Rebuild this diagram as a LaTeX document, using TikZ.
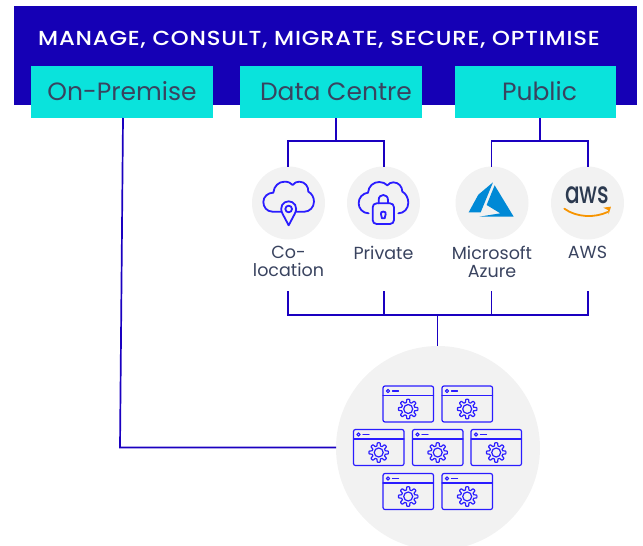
\documentclass[tikz,border=0pt]{standalone}
\usepackage{fontspec}
\setmainfont{Poppins}
\newfontfamily\hdfont[LetterSpace=4,FakeStretch=1.12]{Poppins Medium}
\newfontfamily\logofont{Poppins Medium}
\definecolor{banner}{HTML}{1500B5}
\definecolor{cyanbox}{HTML}{0AE3DC}
\definecolor{linecol}{HTML}{1A00C0}
\definecolor{iconcol}{HTML}{2A1CFF}
\definecolor{disc}{HTML}{F2F2F2}
\definecolor{ink}{HTML}{39435F}
\definecolor{azure}{HTML}{0089D6}
\definecolor{awsorange}{HTML}{F79400}
\definecolor{awsink}{HTML}{2C3A50}
\tikzset{
  x=1pt,y=-1pt,
  boxlabel/.style={fill=cyanbox,text=ink,font=\fontsize{25}{28}\selectfont,minimum height=52pt,inner sep=0pt,outer sep=0pt},
  discnode/.style={circle,fill=disc,inner sep=0pt,outer sep=0pt},
  caption/.style={text=ink,font=\fontsize{17.5}{18}\selectfont,align=center,inner sep=0pt},
  conn/.style={draw=linecol,line width=1.7pt},
  icon/.style={draw=iconcol,line width=1.8pt,line join=round,line cap=round},
  thinicon/.style={draw=iconcol,line width=1.2pt,line join=round,line cap=round},
  appwin/.pic={
    \draw[thinicon,rounded corners=2pt] (0,0) rectangle (50.5,36);
    \draw[thinicon] (0,9.5)--(50.5,9.5);
    \draw[thinicon] (5,5) circle (1.6);
    \draw[thinicon] (9.5,5)--(15.5,5);
    \draw[thinicon,shift={(25.2,23)}] plot[domain=0:360,samples=121] ({(8.2+1.5*max(-1,min(1,2.5*cos(8*\x))))*cos(\x)},{(8.2+1.5*max(-1,min(1,2.5*cos(8*\x))))*sin(\x)}) -- cycle;
    \draw[thinicon,shift={(25.2,23)}] (0,0) circle (4.5);
  }
}
\begin{document}
\begin{tikzpicture}
\useasboundingbox (0,0) rectangle (643,546);
% banner
\node[fill=banner,minimum width=623pt,minimum height=99pt,inner sep=0pt,outer sep=0pt] (bannerbox) at (325.5,55.5) {};
\node[text=white,font=\hdfont\fontsize{20.3}{22}\selectfont,inner sep=0pt] (headline) at (319,39.5) {MANAGE, CONSULT, MIGRATE, SECURE, OPTIMISE};
% boxes
\node[boxlabel,minimum width=182pt] (onprem) at (122,92) {\raisebox{1.5pt}{On-Premise}};
\node[boxlabel,minimum width=182pt] (datacentre) at (331,92) {\hspace*{10pt}\raisebox{1.5pt}{Data Centre}};
\node[boxlabel,minimum width=161pt] (public) at (535.5,92) {\hspace*{8pt}\raisebox{1.5pt}{Public}};
% discs
\node[discnode,minimum size=73pt] (colo) at (288.5,203) {};
\node[discnode,minimum size=73pt] (private) at (383.5,203) {};
\node[discnode,minimum size=73pt] (azuredisc) at (492,203) {};
\node[discnode,minimum size=73pt] (awsdisc) at (587.5,203) {};
\node[discnode,minimum size=204pt] (hub) at (438,448) {};
% captions
\node[caption,anchor=north] (colotxt) at (288.5,246) {Co-\\location};
\node[caption,anchor=north] (privtxt) at (383.5,246) {Private};
\node[caption,anchor=north] (azuretxt) at (492,246) {Microsoft\\Azure};
\node[caption,anchor=north] (awstxt) at (587.5,246) {AWS};
% connector joints
\coordinate (dcj) at (336,141);
\coordinate (pubj) at (540,141);
\coordinate (busj) at (437.5,315);
\coordinate (opa) at (123,118);
\coordinate (opb) at (120,447.5);
\coordinate (colob) at (288,291);
\coordinate (privb) at (384,291);
\coordinate (azb) at (491.5,291);
\coordinate (awsb) at (588,291);
\draw[conn] (opa) -- (opb) -- (hub.west |- opb);
\draw[conn] (dcj |- datacentre.south) -- (dcj);
\draw[conn] (colob |- colo.north) |- (dcj) -| (privb |- private.north);
\draw[conn] (pubj |- public.south) -- (pubj);
\draw[conn] (azb |- azuredisc.north) |- (pubj) -| (awsb |- awsdisc.north);
\draw[conn] (colob) |- (busj) -| (awsb);
\draw[conn] (privb) -- (privb |- busj);
\draw[conn] (azb) -- (azb |- busj);
\draw[conn] (busj) -- (busj |- hub.north);
% cloud + pin
\begin{scope}[shift={(240,150)},x=.3333pt,y=-.3333pt]
\draw[icon] (124,185) -- (97,185) .. controls (80,185) and (70,170) .. (70,156) .. controls (70,140) and (84,128) .. (100,128) .. controls (102,108) and (116,95) .. (134,95) .. controls (145,95) and (153,99) .. (158,105) .. controls (163,98) and (170,95) .. (178,95) .. controls (195,95) and (206,110) .. (205,125) .. controls (215,130) and (222,142) .. (222,155) .. controls (222,172) and (208,185) .. (194,185) -- (169,185);
\draw[icon] (146,226) -- (128,192) .. controls (116,170) and (130,154) .. (146,154) .. controls (162,154) and (176,170) .. (164,192) -- cycle;
\draw[icon] (146,177) circle (10);
\end{scope}
% cloud + lock
\begin{scope}[shift={(240,150)},x=.3333pt,y=-.3333pt]
\draw[icon] (386,190) .. controls (368,190) and (356,175) .. (356,160) .. controls (356,143) and (368,130) .. (384,128) .. controls (386,108) and (400,96) .. (418,96) .. controls (428,96) and (436,100) .. (442,106) .. controls (447,100) and (454,97) .. (460,97) .. controls (476,97) and (487,110) .. (487,125) .. controls (498,130) and (505,145) .. (505,158) .. controls (505,176) and (492,190) .. (475,190);
\draw[icon] (398,172) .. controls (398,165) and (403,160) .. (410,160) -- (450,160) .. controls (457,160) and (462,165) .. (462,172) -- (462,210) .. controls (462,217) and (457,222) .. (450,222) -- (410,222) .. controls (403,222) and (398,217) .. (398,210) -- cycle;
\draw[icon] (416,160) -- (416,150) .. controls (416,130) and (444,130) .. (444,150) -- (444,160);
\draw[icon] (426,205) -- (423,193) .. controls (418,182) and (442,182) .. (437,193) -- (434,205) -- cycle;
\end{scope}
% azure
\begin{scope}[shift={(440,150)},x=.3333pt,y=-.3333pt]
\fill[azure] (159,97) -- (115,134) -- (86,187) -- (122,187) -- cycle;
\fill[azure] (164,106) -- (140,165) -- (181,190) -- (118,200) -- (221,200) -- cycle;
\end{scope}
% aws
\node[text=awsink,font=\logofont\fontsize{30}{30}\selectfont,inner sep=0pt] (awslogo) at (587,195) {\scalebox{.72}[1]{aws}};
\begin{scope}[shift={(440,150)},x=.3333pt,y=-.3333pt]
\draw[awsorange,line width=1.8pt,line cap=round] (373,176) .. controls (410,203) and (465,204) .. (503,186);
\fill[awsorange] (490,173) -- (513,170) -- (506,193) -- (504,180) -- cycle;
\end{scope}
% app windows
\pic at (383,386) {appwin};
\pic at (442,386) {appwin};
\pic at (353.5,429.5) {appwin};
\pic at (412.5,429.5) {appwin};
\pic at (471,429.5) {appwin};
\pic at (383,473.5) {appwin};
\pic at (442,473.5) {appwin};
\end{tikzpicture}
\end{document}
